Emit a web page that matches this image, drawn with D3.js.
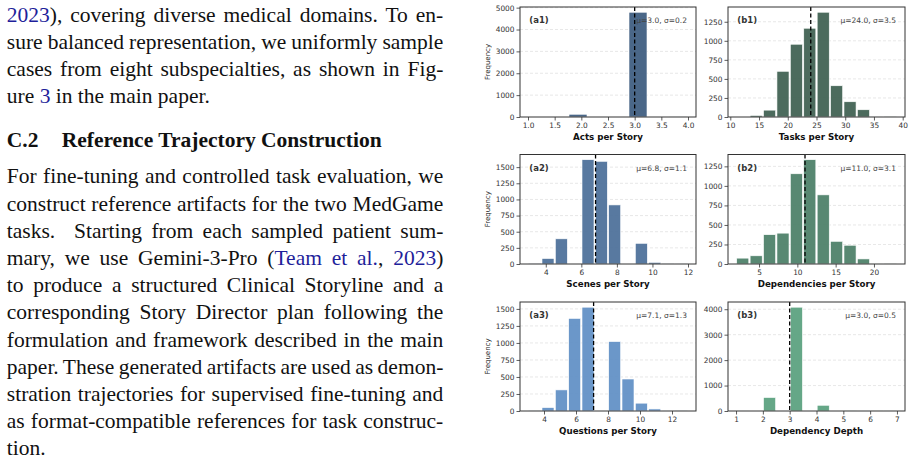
<!DOCTYPE html>
<html><head><meta charset="utf-8">
<script src="https://cdn.jsdelivr.net/npm/d3@7"></script>
<style>
html,body{margin:0;padding:0;background:#fff;}
svg{display:block;}
</style></head>
<body>
<svg id="page" width="914" height="461"></svg>
<script>
// ---------------- data ----------------
const panelTags = ["(a1)", "(b1)", "(a2)", "(b2)", "(a3)", "(b3)"];
const xTitles = ["Acts per Story", "Tasks per Story", "Scenes per Story", "Dependencies per Story", "Questions per Story", "Dependency Depth"];
const binLo = [1, 11, 3, 2, 3, 1];
const binHi = [4, 39, 12, 23, 13, 7];
const actsFreq      = [0, 0, 125, 0, 0, 4790, 0, 20];
const tasksFreq     = [0, 20, 90, 600, 955, 1165, 1375, 410, 200, 95, 5, 2];
const scenesFreq    = [3, 85, 390, 0, 1615, 1590, 915, 0, 320, 25, 2, 1];
const depsFreq      = [75, 105, 375, 395, 1155, 1335, 885, 290, 240, 65, 5, 2];
const questionsFreq = [2, 50, 310, 1360, 1525, 0, 1020, 470, 115, 30, 5, 2];
const depthFreq     = [1, 0, 530, 0, 4080, 0, 225, 0, 20, 0, 3, 2];
const means = [3.0, 24.0, 6.8, 11.0, 7.1, 3.0];
const sds   = [0.2, 3.5, 1.1, 3.1, 1.3, 0.5];
const xTickVals = [[1, 1.5, 2, 2.5, 3, 3.5, 4], [10, 15, 20, 25, 30, 35, 40], [4, 6, 8, 10, 12], [5, 10, 15, 20], [4, 6, 8, 10, 12], [1, 2, 3, 4, 5, 6, 7]];
const yTickVals = [[0, 1000, 2000, 3000, 4000, 5000], [0, 250, 500, 750, 1000, 1250], [0, 250, 500, 750, 1000, 1250, 1500], [0, 250, 500, 750, 1000, 1250], [0, 250, 500, 750, 1000, 1250, 1500], [0, 1000, 2000, 3000, 4000]];
const yTitle = "Frequency";

const para1Lines = [
  "{2023}), covering diverse medical domains. To en-",
  "sure balanced representation, we uniformly sample",
  "cases from eight subspecialties, as shown in Fig-",
  "ure {3} in the main paper."
];
const headingNum = "C.2";
const headingText = "Reference Trajectory Construction";
const para2Lines = [
  "For fine-tuning and controlled task evaluation, we",
  "construct reference artifacts for the two MedGame",
  "tasks.  Starting from each sampled patient sum-",
  "mary, we use Gemini-3-Pro ({Team et al.}, {2023})",
  "to produce a structured Clinical Storyline and a",
  "corresponding Story Director plan following the",
  "formulation and framework described in the main",
  "paper. These generated artifacts are used as demon-",
  "stration trajectories for supervised fine-tuning and",
  "as format-compatible references for task construc-",
  "tion."
];

// ---------------- style / layout ----------------
const colors = ["#3b5a7e", "#3d5e4f", "#4a6e98", "#4a7e66", "#5e8ec4", "#58a07d"];
const colL = [520, 728], colR = [696, 905];
const rowT = [7, 154.5, 302], rowB = [117, 264, 411];
const linkColor = "#1f1f9a";
const serif = "'Liberation Serif', 'Times New Roman', serif";
const sans = "'DejaVu Sans', sans-serif";

const svg = d3.select("#page");

// ---------------- body text ----------------
const textL = 6.8, textW = 436.5, fontPx = 21.5;
function drawLine(str, yBase, justify) {
  const t = svg.append("text").attr("x", textL).attr("y", yBase)
    .attr("xml:space", "preserve")
    .style("font-family", serif).style("font-size", fontPx + "px").attr("fill", "#111");
  str.split(/(\{[^}]*\})/).filter(s => s.length).forEach(seg => {
    const link = seg.startsWith("{");
    t.append("tspan").text(link ? seg.slice(1, -1) : seg).attr("fill", link ? linkColor : "#111");
  });
  if (justify) {
    const len = t.node().getComputedTextLength();
    const plain = str.replace(/[{}]/g, "");
    const n = (plain.match(/ /g) || []).length;
    if (n > 0) t.style("word-spacing", ((textW - len) / n) + "px");
  }
}
para1Lines.forEach((s, k) => drawLine(s, 21.7 + k * 27.1, k < para1Lines.length - 1));
para2Lines.forEach((s, k) => drawLine(s, 183.3 + k * 27.2, k < para2Lines.length - 1));

svg.append("text").attr("x", textL).attr("y", 147.3)
  .style("font-family", serif).style("font-size", fontPx + "px").style("font-weight", "bold")
  .attr("fill", "#111").text(headingNum);
svg.append("text").attr("x", 61.7).attr("y", 147.3)
  .style("font-family", serif).style("font-size", fontPx + "px").style("font-weight", "bold")
  .attr("fill", "#111").text(headingText);

// ---------------- histograms ----------------
const freqs = [actsFreq, tasksFreq, scenesFreq, depsFreq, questionsFreq, depthFreq];
freqs.forEach((freq, i) => {
  const col = i % 2, row = Math.floor(i / 2);
  const L = colL[col], R = colR[col], T = rowT[row], B = rowB[row];
  const lo = binLo[i], hi = binHi[i], pad = 0.05 * (hi - lo);
  const x = d3.scaleLinear().domain([lo - pad, hi + pad]).range([L, R]);
  const y = d3.scaleLinear().domain([0, d3.max(freq) * 1.05]).range([B, T]);
  const w = (hi - lo) / freq.length;
  const g = svg.append("g");

  g.selectAll("line.grid").data(yTickVals[i].filter(v => v > 0)).join("line")
    .attr("class", "grid")
    .attr("x1", L).attr("x2", R).attr("y1", d => y(d)).attr("y2", d => y(d))
    .attr("stroke", "#d6d6d6").attr("stroke-width", 0.6).attr("stroke-dasharray", "3,2");

  const bins = freq.map((v, k) => ({ v, a: lo + k * w, b: lo + (k + 1) * w })).filter(d => d.v > 0);
  g.selectAll("rect.bar").data(bins).join("rect")
    .attr("class", "bar")
    .attr("x", d => x(d.a + 0.05 * w))
    .attr("width", d => x(d.b - 0.05 * w) - x(d.a + 0.05 * w))
    .attr("y", d => y(d.v))
    .attr("height", d => y(0) - y(d.v))
    .attr("fill", colors[i]).attr("fill-opacity", 0.92)
    .attr("stroke", "#ffffff").attr("stroke-width", 0.6);

  g.append("line")
    .attr("x1", x(means[i])).attr("x2", x(means[i])).attr("y1", T).attr("y2", B)
    .attr("stroke", "#000").attr("stroke-width", 1.3).attr("stroke-dasharray", "4,2.5");

  const fmt = i === 0 ? d3.format(".1f") : d3.format("d");
  const gx = g.append("g").attr("transform", `translate(0,${B})`)
    .call(d3.axisBottom(x).tickValues(xTickVals[i]).tickSize(3.5).tickPadding(2.5).tickFormat(fmt));
  const gy = g.append("g").attr("transform", `translate(${L},0)`)
    .call(d3.axisLeft(y).tickValues(yTickVals[i]).tickSize(3.5).tickPadding(2).tickFormat(d3.format("d")));
  [gx, gy].forEach(ax => {
    ax.select(".domain").remove();
    ax.attr("font-family", sans).attr("font-size", 7.4);
    ax.selectAll("text").attr("fill", "#333");
    ax.selectAll("line").attr("stroke", "#333").attr("stroke-width", 0.8);
  });

  g.append("rect").attr("x", L).attr("y", T).attr("width", R - L).attr("height", B - T)
    .attr("fill", "none").attr("stroke", "#333").attr("stroke-width", 1);

  g.append("text").attr("x", L + 9.3).attr("y", T + 16)
    .style("font-family", sans).style("font-size", "8.5px").style("font-weight", "bold")
    .attr("fill", "#333").text(panelTags[i]);
  g.append("text").attr("x", R - 9).attr("y", T + 16).attr("text-anchor", "end")
    .style("font-family", sans).style("font-size", "7.5px")
    .attr("fill", "#444").text("\u03bc=" + means[i].toFixed(1) + ", \u03c3=" + sds[i].toFixed(1));

  g.append("text").attr("x", (L + R) / 2).attr("y", B + 23).attr("text-anchor", "middle")
    .style("font-family", sans).style("font-size", "8.7px").style("font-weight", "bold")
    .attr("fill", "#111").text(xTitles[i]);

  if (col === 0) {
    g.append("text").attr("transform", `translate(489.5,${(T + B) / 2}) rotate(-90)`)
      .attr("text-anchor", "middle")
      .style("font-family", sans).style("font-size", "7px")
      .attr("fill", "#222").text(yTitle);
  }
});
</script>
</body></html>
